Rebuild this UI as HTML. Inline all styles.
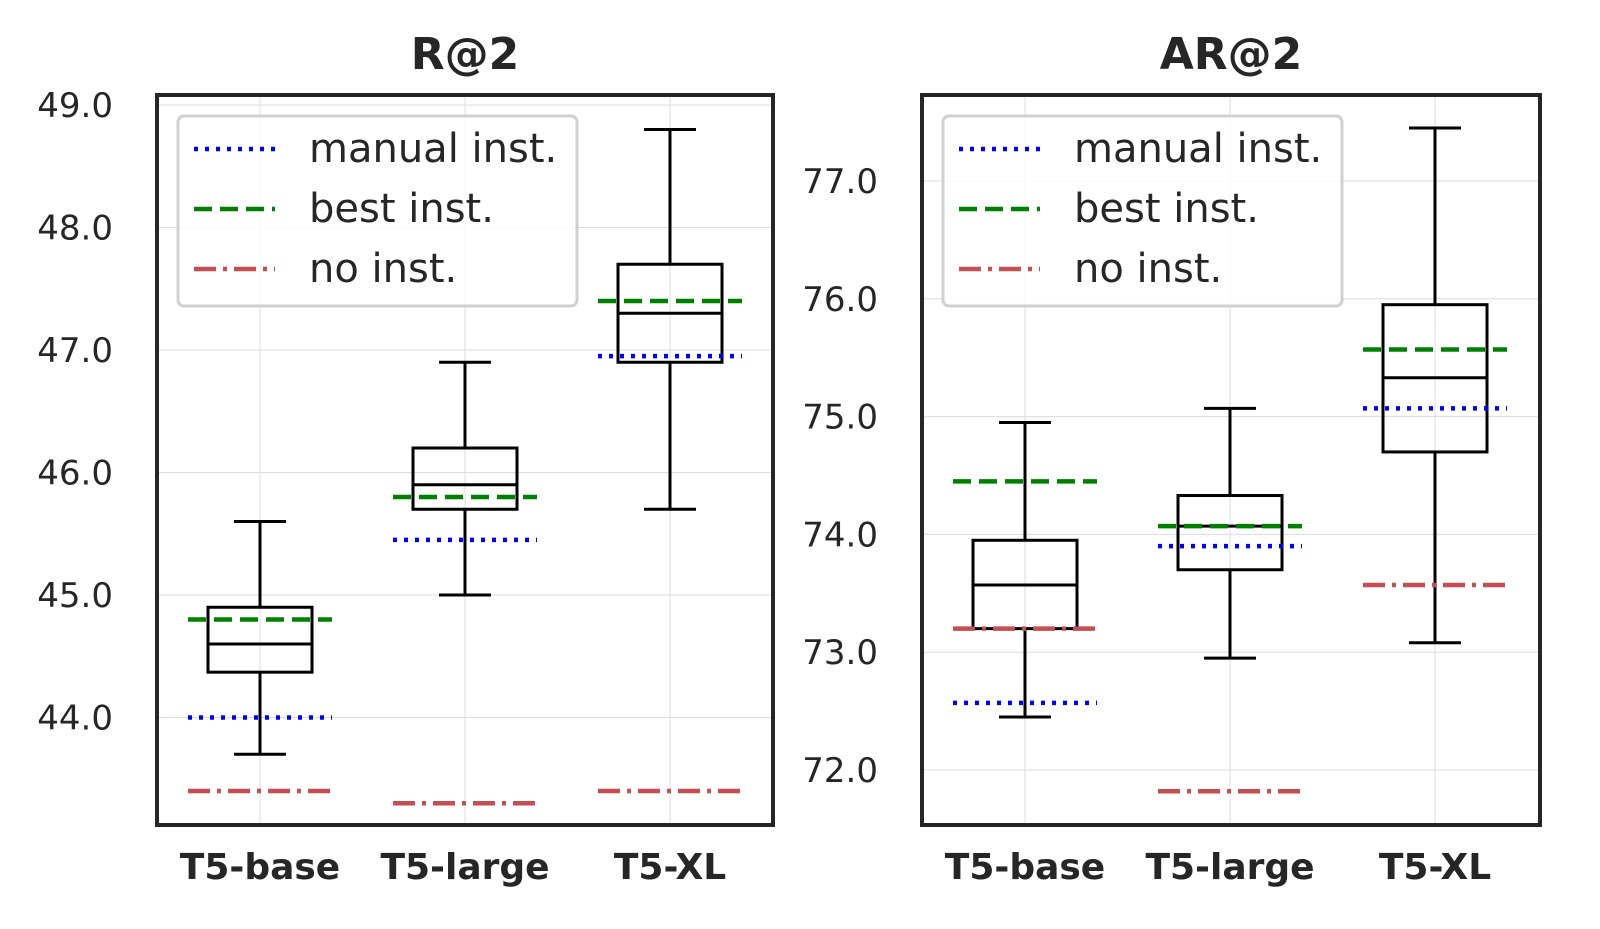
<!DOCTYPE html>
<html><head><meta charset="utf-8"><style>
body{margin:0;background:#fff;}
svg{display:block;font-family:"DejaVu Sans","Liberation Sans",sans-serif;}
</style></head><body>
<svg id="chart" width="1600" height="929"></svg>
<script>
const categories=["T5-base","T5-large","T5-XL"];
const r2Low=[43.7,45.0,45.7];
const r2Q1=[44.37,45.7,46.9];
const r2Med=[44.6,45.9,47.3];
const r2Q3=[44.9,46.2,47.7];
const r2High=[45.6,46.9,48.8];
const r2Manual=[44.0,45.45,46.95];
const r2Best=[44.8,45.8,47.4];
const r2None=[43.4,43.3,43.4];
const r2Ticks=[44,45,46,47,48,49];
const ar2Low=[72.45,72.95,73.08];
const ar2Q1=[73.2,73.7,74.7];
const ar2Med=[73.57,74.07,75.33];
const ar2Q3=[73.95,74.33,75.95];
const ar2High=[74.95,75.07,77.45];
const ar2Manual=[72.57,73.9,75.07];
const ar2Best=[74.45,74.07,75.57];
const ar2None=[73.2,71.82,73.57];
const ar2Ticks=[72,73,74,75,76,77];

const NS="http://www.w3.org/2000/svg";
const svg=document.getElementById('chart');
function el(tag,attrs,parent,txt){const e=document.createElementNS(NS,tag);for(const k in attrs)e.setAttribute(k,attrs[k]);if(txt!=null)e.textContent=txt;(parent||svg).appendChild(e);return e;}

function panel(opt){
  const g=el('g',{});
  
  
  const x0=opt.x0,x1=opt.x1,yT=95,yB=825;
  const y=v=>opt.refY+(opt.refV-v)*opt.ppu;
  const xc=i=>x0+103+i*205;
  opt.ticks.forEach(t=>{
    const l=el('line',{x1:x0,x2:x1,y1:y(t),y2:y(t),stroke:'#dcdcdc','stroke-width':1},g);
    
    const tx=el('text',{x:x0-44,y:y(t)+12,'text-anchor':'end','font-size':34,fill:'#262626'},g,t.toFixed(1));
    
  });
  categories.forEach((c,i)=>{
    const l=el('line',{x1:xc(i),x2:xc(i),y1:yT,y2:yB,stroke:'#dcdcdc','stroke-width':1},g);
    
    const tx=el('text',{x:xc(i),y:879,'text-anchor':'middle','font-size':36,'font-weight':'bold',fill:'#262626'},g,c);
    
  });
  categories.forEach((c,i)=>{
    const bx=el('g',{},g);
    
    const cx=xc(i),w=52,cw=26;
    el('line',{x1:cx,x2:cx,y1:y(opt.low[i]),y2:y(opt.q1[i]),stroke:'#000','stroke-width':3},bx);
    el('line',{x1:cx,x2:cx,y1:y(opt.q3[i]),y2:y(opt.high[i]),stroke:'#000','stroke-width':3},bx);
    el('line',{x1:cx-cw,x2:cx+cw,y1:y(opt.low[i]),y2:y(opt.low[i]),stroke:'#000','stroke-width':3},bx);
    el('line',{x1:cx-cw,x2:cx+cw,y1:y(opt.high[i]),y2:y(opt.high[i]),stroke:'#000','stroke-width':3},bx);
    el('rect',{x:cx-w,y:y(opt.q3[i]),width:2*w,height:y(opt.q1[i])-y(opt.q3[i]),fill:'none',stroke:'#000','stroke-width':3},bx);
    el('line',{x1:cx-w,x2:cx+w,y1:y(opt.med[i]),y2:y(opt.med[i]),stroke:'#000','stroke-width':3},bx);
    const ref=(v,col,dash,nm)=>{const l=el('line',{x1:cx-72,x2:cx+72,y1:y(v),y2:y(v),stroke:col,'stroke-width':4.5,'stroke-dasharray':dash},g);
      };
    ref(opt.manual[i],'#0000ff','4 7','manual-inst-line');
    ref(opt.best[i],'#008000','18 8','best-inst-line');
    ref(opt.none[i],'#c44e52','22 7 4 7','no-inst-line');
  });
  const f=el('rect',{x:x0,y:yT,width:x1-x0,height:yB-yT,fill:'none',stroke:'#262626','stroke-width':4},g);
  
  const t=el('text',{x:(x0+x1)/2,y:69,'text-anchor':'middle','font-size':44,'font-weight':'bold',fill:'#262626'},g,opt.title);
  
  const lg=el('g',{},g);
  
  el('rect',{x:x0+21,y:116,width:399,height:190,rx:6,fill:'#fff','fill-opacity':0.85,stroke:'#d0d0d0','stroke-width':3},lg);
  const items=[['manual inst.','#0000ff','4 7'],['best inst.','#008000','18 8'],['no inst.','#c44e52','22 7 4 7']];
  items.forEach((it,k)=>{
    const e=el('g',{},lg);
    
    const yy=149+k*60;
    el('line',{x1:x0+37,x2:x0+118,y1:yy,y2:yy,stroke:it[1],'stroke-width':4.5,'stroke-dasharray':it[2]},e);
    el('text',{x:x0+152,y:yy+13,'font-size':40,fill:'#262626'},e,it[0]);
  });
}
panel({name:'r2-panel',title:'R@2',x0:157,x1:773,refY:105,refV:49,ppu:122.5,ticks:r2Ticks,
  low:r2Low,q1:r2Q1,med:r2Med,q3:r2Q3,high:r2High,manual:r2Manual,best:r2Best,none:r2None});
panel({name:'ar2-panel',title:'AR@2',x0:922,x1:1540,refY:181,refV:77,ppu:117.8,ticks:ar2Ticks,
  low:ar2Low,q1:ar2Q1,med:ar2Med,q3:ar2Q3,high:ar2High,manual:ar2Manual,best:ar2Best,none:ar2None});
</script>
</body></html>
